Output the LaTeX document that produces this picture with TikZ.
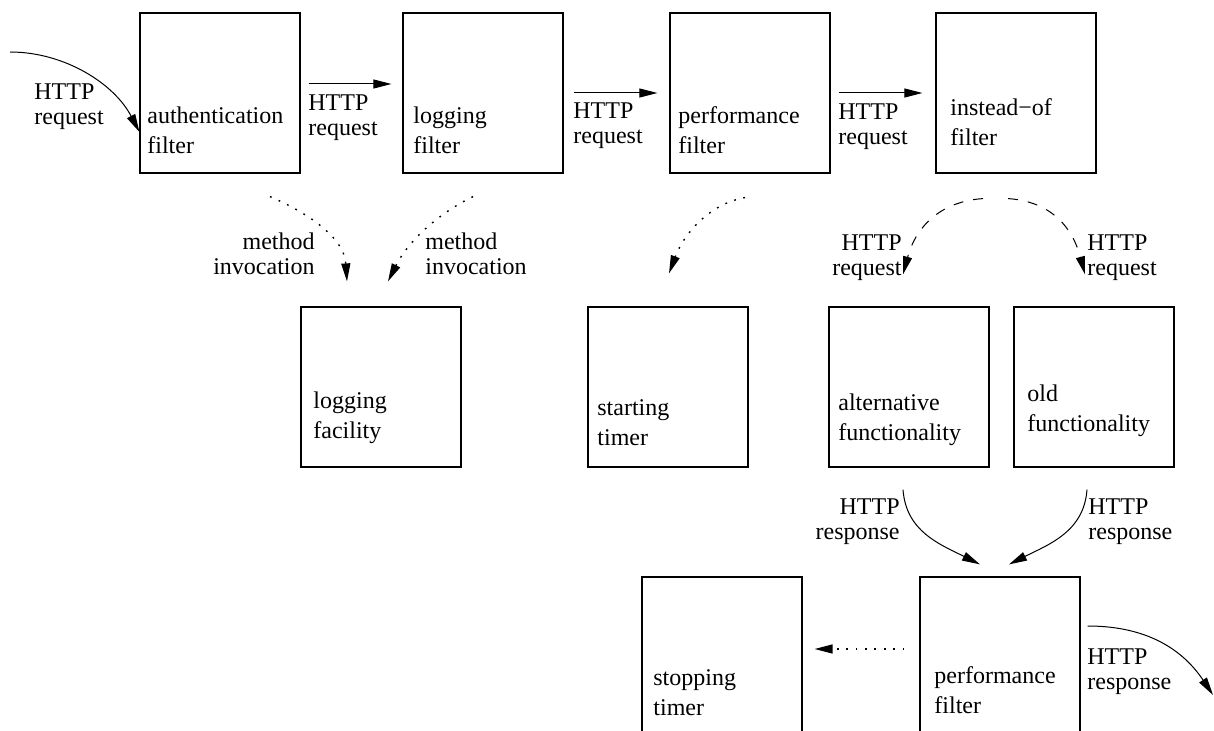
\documentclass[tikz,border=0pt]{standalone}
\usepackage{fontspec}
\setmainfont{Liberation Serif}
\usetikzlibrary{arrows.meta}

\begin{document}
\begin{tikzpicture}[
  x=0.5pt, y=-0.5pt,
  box/.style={
    rectangle,
    draw=black,
    line width=0.6pt,
    minimum width=80pt,
    minimum height=80pt,
    inner sep=0pt
  },
  boxtext/.style={
    anchor=base west,
    inner sep=0pt,
    align=left,
    font=\fontsize{12pt}{15pt}\selectfont
  },
  note/.style={
    inner sep=0pt,
    align=#1,
    font=\fontsize{12pt}{12.5pt}\selectfont
  },
  flow/.style={
    -{Triangle[length=9pt, width=4.5pt]},
    line width=0.5pt
  },
  dotflow/.style={
    flow,
    line width=0.7pt,
    dash pattern=on 0.9pt off 3.8pt
  },
  dashflow/.style={
    flow,
    dash pattern=on 5pt off 5pt
  }
]
\useasboundingbox (0,0) rectangle (1214,731);

% Filter chain
\node[box] (auth) at (220,93) {};
\node[box] (logf) at (483,93) {};
\node[box] (perf) at (750,93) {};
\node[box] (insof) at (1016,93) {};

% Called components
\node[box] (logfac) at (381,387) {};
\node[box] (start) at (668,387) {};
\node[box] (alt) at (909,387) {};
\node[box] (old) at (1094,387) {};

% Way back
\node[box] (stop) at (722,657) {};
\node[box] (perf2) at (1000,657) {};

% Box texts (anchored on the last line)
\node[boxtext] (authtxt) at (147,154) {authentication\\filter};
\node[boxtext] (logftxt) at (413,154) {logging\\filter};
\node[boxtext] (perftxt) at (678,154) {performance\\filter};
\node[boxtext] (insoftxt) at (950,146) {instead−of\\filter};
\node[boxtext] (logfactxt) at (313,439) {logging\\facility};
\node[boxtext] (starttxt) at (597,446) {starting\\timer};
\node[boxtext] (alttxt) at (838,441) {alternative\\functionality};
\node[boxtext] (oldtxt) at (1027,432) {old\\functionality};
\node[boxtext] (stoptxt) at (653,715) {stopping\\timer};
\node[boxtext] (perf2txt) at (934,713) {performance\\filter};

% Free ends
\coordinate (inStart) at (10,52);
\coordinate (outEnd) at (1213,695);

% Requests
\draw[flow] (inStart) .. controls +(55,0) and +(-25,-48) .. ([yshift=-19.5pt]auth.west);
\draw[flow] ([xshift=4pt,yshift=4.5pt]auth.east) -- ([xshift=-5.5pt,yshift=4.5pt]logf.west);
\draw[flow] ([xshift=5pt]logf.east) -- ([xshift=-6pt]perf.west);
\draw[flow] ([xshift=4pt]perf.east) -- ([xshift=-6.5pt]insof.west);

% Method invocations
\draw[dotflow] ([xshift=25pt,yshift=-11.5pt]auth.south) .. controls +(35,15) and +(-3,-45) .. ([xshift=-17pt,yshift=12.5pt]logfac.north);
\draw[dotflow] ([xshift=-5pt,yshift=-11.5pt]logf.south) .. controls +(-35,17) and +(20,-40) .. ([xshift=3.5pt,yshift=12.5pt]logfac.north);
\draw[dotflow] ([xshift=-2.5pt,yshift=-12pt]perf.south) .. controls +(-35,6) and +(15,-40) .. ([xshift=0.5pt,yshift=16.5pt]start.north);

% Instead-of choice
\draw[dashflow] ([xshift=-16.5pt,yshift=-12.5pt]insof.south) .. controls +(-45,3) and +(12,-45) .. ([xshift=-3pt,yshift=16pt]alt.north);
\draw[dashflow] ([xshift=-4pt,yshift=-12.5pt]insof.south) .. controls +(45,3) and +(-12,-45) .. ([xshift=-4.5pt,yshift=16pt]old.north);

% Responses
\draw[flow] ([xshift=-3pt,yshift=-11pt]alt.south) .. controls +(3,42) and +(-40,-20) .. ([xshift=-10pt,yshift=6pt]perf2.north);
\draw[flow] ([xshift=-3.5pt,yshift=-11pt]old.south) .. controls +(-3,42) and +(40,-20) .. ([xshift=4.5pt,yshift=6pt]perf2.north);
\draw[dotflow] ([xshift=-7.5pt,yshift=4pt]perf2.west) -- ([xshift=6pt,yshift=4pt]stop.east);
\draw[flow] ([xshift=3.5pt,yshift=15.5pt]perf2.east) .. controls +(60,0) and +(-30,-45) .. (outEnd);

% Labels (anchored on the last line)
\node[note=left, anchor=base west] (inlbl) at (34,125) {HTTP\\request};
\node[note=left, anchor=base west] (req1) at (308,136) {HTTP\\request};
\node[note=left, anchor=base west] (req2) at (573,144) {HTTP\\request};
\node[note=left, anchor=base west] (req3) at (838,145) {HTTP\\request};
\node[note=right, anchor=base east] (inv1) at (315,275) {method\\invocation};
\node[note=left, anchor=base west] (inv2) at (425,275) {method\\invocation};
\node[note=right, anchor=base east] (req4) at (902,276) {HTTP\\request};
\node[note=left, anchor=base west] (req5) at (1087,276) {HTTP\\request};
\node[note=right, anchor=base east] (resp1) at (900,539) {HTTP\\response};
\node[note=left, anchor=base west] (resp2) at (1088,539) {HTTP\\response};
\node[note=left, anchor=base west] (resp3) at (1087,689) {HTTP\\response};
\end{tikzpicture}
\end{document}
